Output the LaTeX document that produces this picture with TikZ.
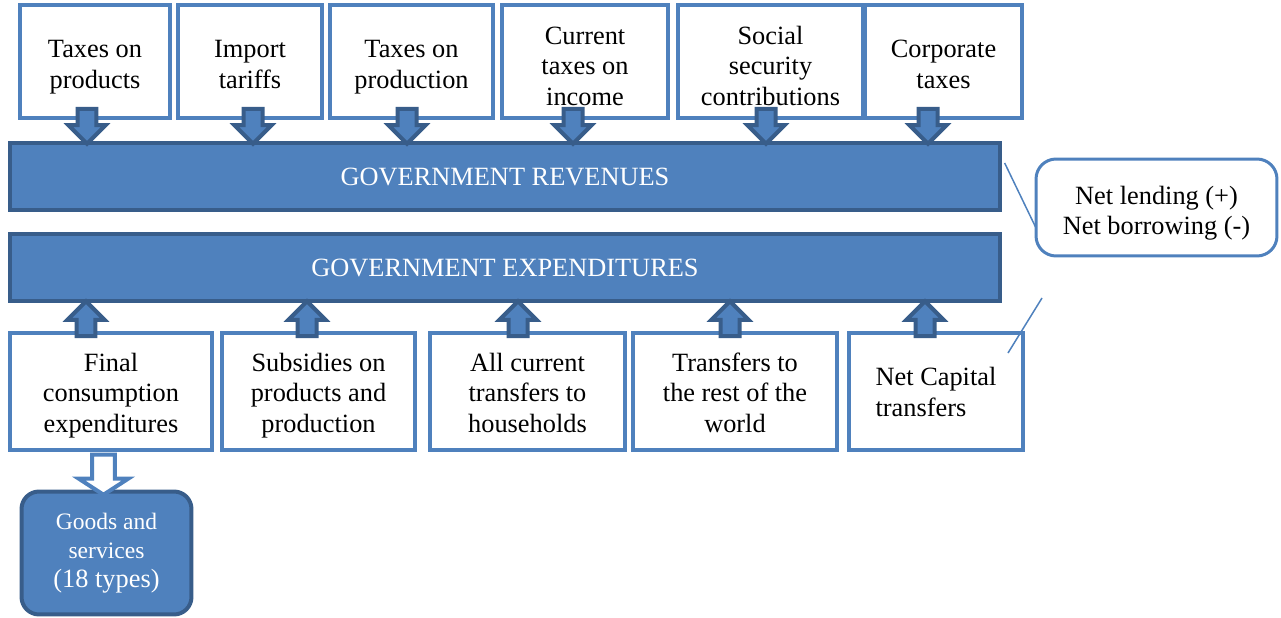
\documentclass[tikz,border=0pt]{standalone}
\usepackage{fontspec}
\setmainfont{Liberation Serif}
\usetikzlibrary{shapes.arrows}
\definecolor{govblue}{HTML}{4F81BD}
\definecolor{govdark}{HTML}{385D8A}

\begin{document}
\begin{tikzpicture}[x=0.02cm,y=-0.02cm,
  box/.style={draw=govblue,line width=0.08cm,fill=white,align=center,inner sep=2pt,text depth=0pt,font=\fontsize{15}{17.5}\selectfont},
  top box/.style={box,minimum height=2.26cm},
  low box/.style={box,minimum height=2.34cm},
  two lines/.style={text height=1.08cm},
  three lines/.style={text height=1.77cm},
  bar/.style={draw=govdark,fill=govblue,line width=0.07cm,text=white,minimum width=19.8cm,minimum height=1.34cm,font=\fontsize{15}{17.5}\selectfont},
  note/.style={draw=govblue,line width=0.06cm,fill=white,rounded corners=0.4cm,align=center,minimum width=4.82cm,minimum height=1.94cm,text depth=0pt,text height=1.08cm,font=\fontsize{15}{17}\selectfont},
  goods/.style={draw=govdark,fill=govblue,line width=0.08cm,rounded corners=0.35cm,text=white,align=center,minimum width=3.4cm,minimum height=2.46cm},
  down arrow/.style={single arrow,draw=govdark,fill=govblue,line width=0.08cm,inner sep=0.15cm,single arrow head extend=0.18cm,minimum height=0.7cm,rotate=-90},
  up arrow/.style={down arrow,rotate=180},
  hollow arrow/.style={single arrow,draw=govblue,fill=white,line width=0.08cm,inner sep=0.19cm,single arrow head extend=0.27cm,single arrow tip angle=114,minimum height=0.8cm,rotate=-90},
  call line/.style={draw=govblue,line width=0.03cm}]

\useasboundingbox (0,0) rectangle (1281,618);

% revenue sources
  \node[top box,two lines,minimum width=3cm] (tprod) at (95,61.5) {Taxes on\\products};
  \node[top box,two lines,minimum width=2.88cm] (tariff) at (250,61.5) {Import\\tariffs};
  \node[top box,two lines,minimum width=3.26cm] (tprodn) at (411.5,61.5) {Taxes on\\production};
  \node[top box,three lines,minimum width=3.32cm] (tinc) at (585,61.5) {Current\\taxes on\\income};
  \node[top box,three lines,minimum width=3.7cm] (social) at (770.5,61.5) {Social\\security\\contributions};
  \node[top box,two lines,minimum width=3.14cm] (corp) at (943.5,61.5) {Corporate\\taxes};

% the two bars
  \node[bar] (rev) at (505,176.5) {GOVERNMENT REVENUES};
  \node[bar] (exp) at (505,267.5) {GOVERNMENT EXPENDITURES};

% balance
  \node[note] (lend) at (1156.5,207.5) {Net lending (+)\\Net borrowing (-)};

% expenditure items
  \node[low box,text height=1.65cm,minimum width=4.04cm] (fin) at (111,391.5) {Final\\consumption\\expenditures};
  \node[low box,text height=1.65cm,minimum width=3.86cm] (subs) at (318.5,391.5) {Subsidies on\\products and\\production};
  \node[low box,text height=1.65cm,minimum width=3.9cm] (hh) at (527.5,391.5) {All current\\transfers to\\households};
  \node[low box,text height=1.65cm,minimum width=4.08cm] (row) at (735,391.5) {Transfers to\\the rest of the\\world};
  \node[low box,minimum width=3.48cm,align=left] (ncap) at (936,391.5) {Net Capital\\transfers};

  \node[goods,font=\fontsize{13.4}{16.4}\selectfont] (gs) at (106.5,553) {Goods and\\services\\{\fontsize{15}{16.4}\selectfont(18 types)}};

% block arrows
  \foreach \x [count=\i] in {87,253,407,573,766,928}
    \node[down arrow] (in\i) at (\x,121.5) {};
  \foreach \x [count=\i] in {86,307,518,730,925}
    \node[up arrow] (out\i) at (\x,323.5) {};
  \node[hollow arrow] (gsarrow) at (103.5,471) {};

% pointer lines of the balance note
  \coordinate (lend tail) at (1042,298);
  \draw[call line] ([xshift=0.06cm,yshift=0.27cm]rev.east) -- ([xshift=0.02cm,yshift=-0.39cm]lend.west);
  \draw[call line] (lend tail) -- ([xshift=-0.34cm,yshift=-0.44cm]ncap.north east);

\end{tikzpicture}
\end{document}
